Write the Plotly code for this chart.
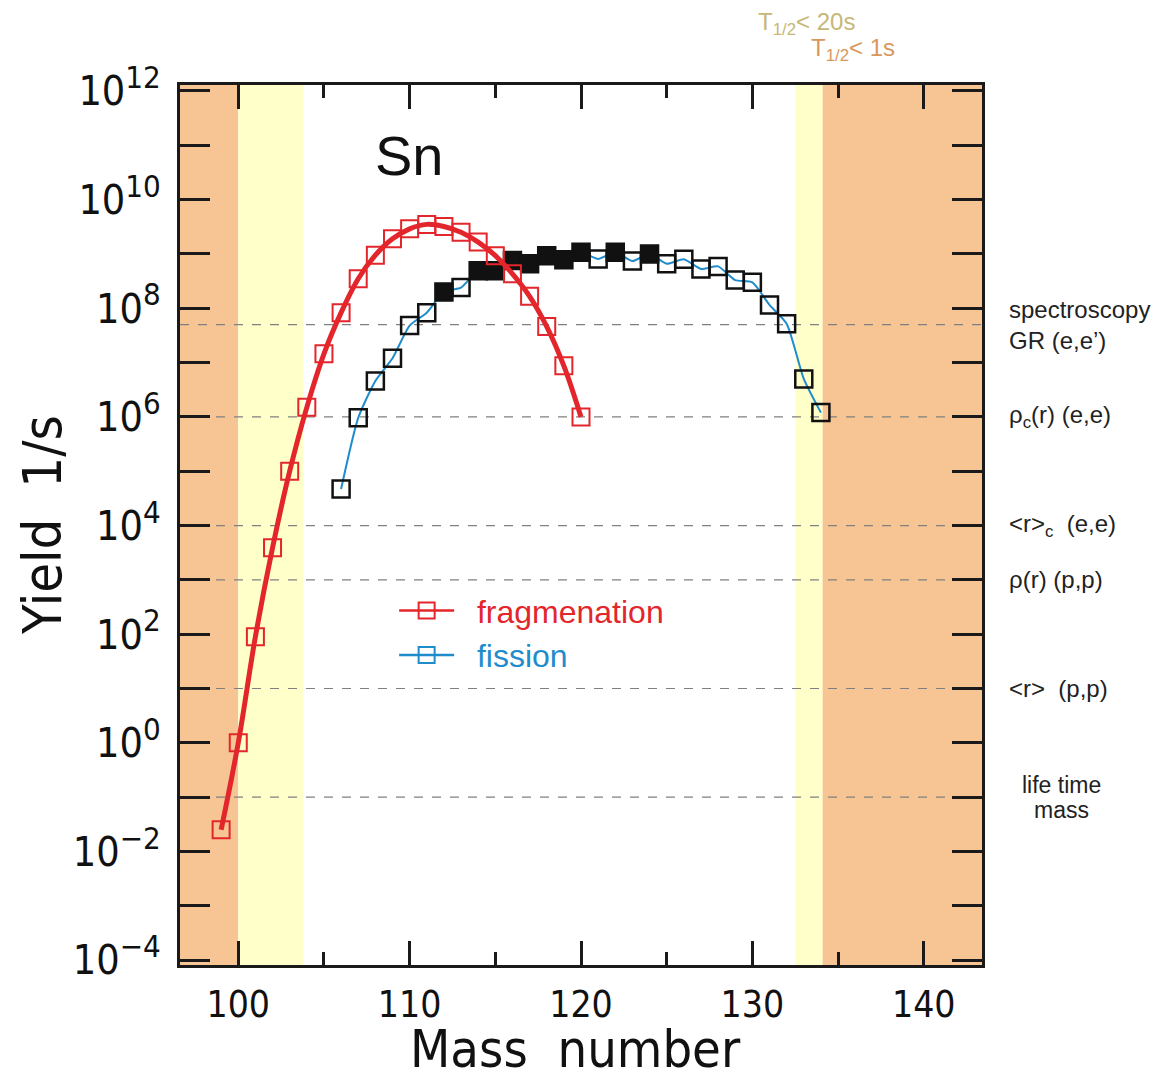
import numpy as np
import plotly.graph_objects as go

# ---------------- data ----------------
frag_mass = list(range(99, 121))
frag_yield = [2.5e-2, 1.0, 9e1, 3.9e3, 1.0e5, 1.5e6, 1.45e7, 8.3e7, 3.5e8, 9.5e8,
              1.9e9, 2.9e9, 3.5e9, 3.2e9, 2.5e9, 1.65e9, 9.3e8, 4.3e8, 1.66e8,
              4.6e7, 8.7e6, 1.0e6]

fis_mass = list(range(106, 135))
fis_yield = [4.7e4, 9.6e5, 4.6e6, 1.2e7, 4.8e7, 8.3e7, 2.0e8, 2.4e8, 4.9e8, 4.9e8,
             7.6e8, 6.6e8, 9.3e8, 7.8e8, 1.07e9, 8.1e8, 1.07e9, 7.4e8, 1.0e9,
             6.6e8, 8.0e8, 5.3e8, 5.9e8, 3.3e8, 3.0e8, 1.15e8, 5.2e7, 5.0e6, 1.2e6]
fis_filled_masses = [112, 114, 115, 116, 117, 118, 119, 120, 122, 124]

# half-life limit regions (mass number)
orange_left = [96.6, 100.0]
yellow_left = [100.0, 103.8]
yellow_right = [132.5, 134.1]
orange_right = [134.1, 143.4]

# method sensitivity thresholds (yield 1/s)
thr_values = [5e7, 1e6, 1e4, 1e3, 1e1, 1e-1]
thr_labels = ["spectroscopy<br>GR (e,e’)",
              "ρ<sub>c</sub>(r) (e,e)",
              "&lt;r&gt;<sub>c</sub>  (e,e)",
              "ρ(r) (p,p)",
              "&lt;r&gt;  (p,p)",
              None]
life_labels = ["life time", "mass"]

x_range = [96.6, 143.4]
y_range_log = [-4.09, 12.11]
y_tick_exp = list(range(-4, 13))
x_major = [100, 110, 120, 130, 140]

# ---------------- figure ----------------
RED = "#e3262b"
BLUE = "#1f8ccc"
ORANGE = "#f6c593"
YELLOW = "#ffffc9"
DIN = "Liberation Sans Narrow, DejaVu Sans Condensed, Arial Narrow, sans-serif"
ARIAL = "Liberation Sans, Arial, sans-serif"
NB = "\u00a0"

fig = go.Figure()

shapes = []
for (x0, x1), col in [(orange_left, ORANGE), (yellow_left, YELLOW),
                      (yellow_right, YELLOW), (orange_right, ORANGE)]:
    shapes.append(dict(type="rect", xref="x", yref="paper", x0=x0, x1=x1,
                       y0=0, y1=1, fillcolor=col, line_width=0, layer="below"))

# dashed threshold lines
for v in thr_values:
    fig.add_trace(go.Scatter(x=x_range, y=[v, v], mode="lines",
                             line=dict(color="#808080", width=1.2, dash="dash"),
                             showlegend=False, hoverinfo="skip"))

# fission
symbols = ["square" if m in fis_filled_masses else "square-open" for m in fis_mass]
fig.add_trace(go.Scatter(x=fis_mass, y=fis_yield, mode="lines+markers",
                         line=dict(color=BLUE, width=2, shape="spline", smoothing=0.6),
                         marker=dict(symbol=symbols, size=17, color="#111111",
                                     line=dict(color="#111111", width=2.5)),
                         showlegend=False))

# fragmentation
fig.add_trace(go.Scatter(x=frag_mass, y=frag_yield, mode="lines+markers",
                         line=dict(color=RED, width=5, shape="spline", smoothing=1.0),
                         marker=dict(symbol="square-open", size=17, color=RED,
                                     line=dict(color=RED, width=2)),
                         showlegend=False))

# legend entries
fig.add_trace(go.Scatter(x=[None], y=[None], mode="lines+markers",
                         name=f"<span style='color:{RED}'>{NB}{NB}fragmenation</span>",
                         line=dict(color=RED, width=2.5),
                         marker=dict(symbol="square-open", size=16, color=RED,
                                     line=dict(color=RED, width=2))))
fig.add_trace(go.Scatter(x=[None], y=[None], mode="lines+markers",
                         name=f"<span style='color:{BLUE}'>{NB}{NB}fission</span>",
                         line=dict(color=BLUE, width=2.5),
                         marker=dict(symbol="square-open", size=16, color=BLUE,
                                     line=dict(color=BLUE, width=2))))

annotations = []
# right-side threshold labels
for v, lab in zip(thr_values, thr_labels):
    if lab is None:
        continue
    annotations.append(dict(
        x=1.031, xref="paper", y=np.log10(v), yref="y",
        xanchor="left", yanchor="middle", align="left",
        text=lab, showarrow=False,
        font=dict(family=ARIAL, size=24, color="#222222")))
for lab, shift in zip(life_labels, [12, -13]):
    annotations.append(dict(
        x=1.099, xref="paper", y=np.log10(thr_values[-1]), yref="y", yshift=shift,
        xanchor="center", yanchor="middle", text=lab, showarrow=False,
        font=dict(family=ARIAL, size=23, color="#222222")))

annotations.append(dict(x=0.286, xref="paper", y=0.92, yref="paper",
                        xanchor="center", yanchor="middle",
                        text="Sn", showarrow=False,
                        font=dict(family=ARIAL, size=56, color="#111111")))
annotations.append(dict(x=0.781, xref="paper", y=1.07, yref="paper",
                        xanchor="center", yanchor="middle",
                        text="T<sub>1/2</sub>&lt; 20s", showarrow=False,
                        font=dict(family=ARIAL, size=24, color="#c7b776")))
annotations.append(dict(x=0.839, xref="paper", y=1.04, yref="paper",
                        xanchor="center", yanchor="middle",
                        text="T<sub>1/2</sub>&lt; 1s", showarrow=False,
                        font=dict(family=ARIAL, size=24, color="#d8975c")))
annotations.append(dict(x=-0.172, xref="paper", y=0.5, yref="paper",
                        xanchor="center", yanchor="middle", textangle=-90,
                        text="Yield  1/s", showarrow=False,
                        font=dict(family=DIN, size=54, color="#111111")))
annotations.append(dict(x=0.493, xref="paper", y=-0.096, yref="paper",
                        xanchor="center", yanchor="middle",
                        text="Mass  number", showarrow=False,
                        font=dict(family=DIN, size=52, color="#111111")))

y_tickvals = [10.0 ** k for k in y_tick_exp]
y_ticktext = [("10<sup><span style='font-size:31px'>%s</span></sup>"
               % (str(k).replace("-", "−"))) if k % 2 == 0 else ""
              for k in y_tick_exp]

fig.update_layout(
    width=1156, height=1072,
    margin=dict(l=172, r=182, t=77, b=115),
    plot_bgcolor="white", paper_bgcolor="white",
    shapes=shapes, annotations=annotations,
    legend=dict(x=0.267, y=0.434, xanchor="left", yanchor="top",
                bgcolor="rgba(0,0,0,0)", itemwidth=55,
                font=dict(family=ARIAL, size=32), tracegroupgap=0),
    xaxis=dict(range=x_range, showgrid=False, zeroline=False,
               showline=True, linecolor="#1a1a1a", linewidth=3, mirror="ticks",
               ticks="inside", ticklen=24, tickwidth=2.5, tickcolor="#1a1a1a",
               tickvals=x_major,
               minor=dict(dtick=5, tick0=0, ticks="inside", ticklen=13,
                          tickwidth=2.5, tickcolor="#1a1a1a", showgrid=False),
               tickfont=dict(family=DIN, size=37, color="#111111"),
               ticklabelstandoff=5),
    yaxis=dict(type="log", range=y_range_log, showgrid=False, zeroline=False,
               showline=True, linecolor="#1a1a1a", linewidth=3, mirror="ticks",
               ticks="inside", ticklen=30, tickwidth=3, tickcolor="#1a1a1a",
               tickvals=y_tickvals, ticktext=y_ticktext,
               tickfont=dict(family=DIN, size=41, color="#111111"),
               ticklabelstandoff=8),
)

fig.write_html("out.html")
